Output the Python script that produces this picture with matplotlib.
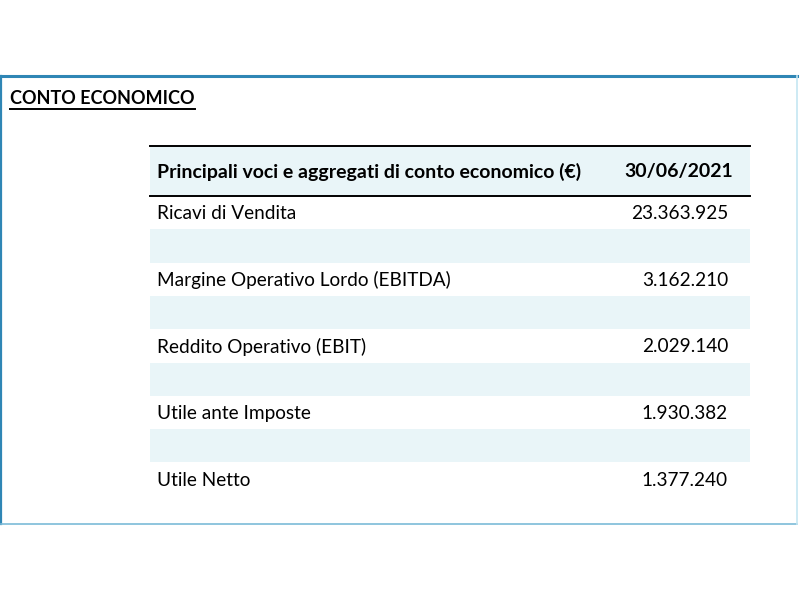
import matplotlib.pyplot as plt
from matplotlib.patches import Rectangle

# -------------------------
# Data
# -------------------------
title = "CONTO ECONOMICO"
header_label = "Principali voci e aggregati di conto economico (€)"
header_date = "30/06/2021"
voci = [
    "Ricavi di Vendita",
    "Margine Operativo Lordo (EBITDA)",
    "Reddito Operativo (EBIT)",
    "Utile ante Imposte",
    "Utile Netto",
]
valori = ["23.363.925", "3.162.210", "2.029.140", "1.930.382", "1.377.240"]

font = ["Lato", "DejaVu Sans"]
band_color = "#e9f5f8"
border_color = "#2f86b5"

fig = plt.figure(figsize=(8, 6), dpi=100)
ax = fig.add_axes([0, 0, 1, 1])
ax.set_xlim(0, 800)
ax.set_ylim(600, 0)
ax.axis("off")

# outer frame
ax.plot([1, 797], [76, 76], color=border_color, lw=2.2)
ax.plot([1, 1], [76, 524], color=border_color, lw=1.6)
ax.plot([1, 797], [524, 524], color="#7bbbd8", lw=1.2)
ax.plot([797, 797], [76, 524], color="#c5e6f2", lw=1.2)

# title, underlined
t = ax.text(10, 98, title, fontsize=13, fontweight="bold", family=font,
            ha="left", va="center")
fig.canvas.draw()
bb = t.get_window_extent().transformed(ax.transData.inverted())
ax.plot([bb.x0, bb.x1], [108.5, 108.5], color="black", lw=1.4)

# table
left, right = 150, 750
head_top, head_bot = 146, 196
row_h = 33.3

ax.add_patch(Rectangle((left, head_top), right - left, head_bot - head_top,
                       facecolor=band_color, edgecolor="none"))
ax.plot([left, right], [head_top, head_top], color="black", lw=1.4)
ax.plot([left, right], [head_bot, head_bot], color="black", lw=1.4)
ax.text(157, (head_top + head_bot) / 2 + 1, header_label, fontsize=14,
        fontweight="bold", family=font, ha="left", va="center")
ax.text(733, (head_top + head_bot) / 2 + 1, header_date, fontsize=14,
        fontweight="bold", family=font, ha="right", va="center")

for i, (voce, val) in enumerate(zip(voci, valori)):
    y0 = head_bot + 2 * i * row_h
    yc = y0 + row_h / 2 + 1
    ax.text(157, yc, voce, fontsize=13.7, family=font, ha="left", va="center")
    ax.text(728, yc, val, fontsize=13.7, family=font, ha="right", va="center")
    if i < len(voci) - 1:
        ax.add_patch(Rectangle((left, y0 + row_h), right - left, row_h,
                               facecolor=band_color, edgecolor="none"))

fig.savefig("out.png", dpi=100)
